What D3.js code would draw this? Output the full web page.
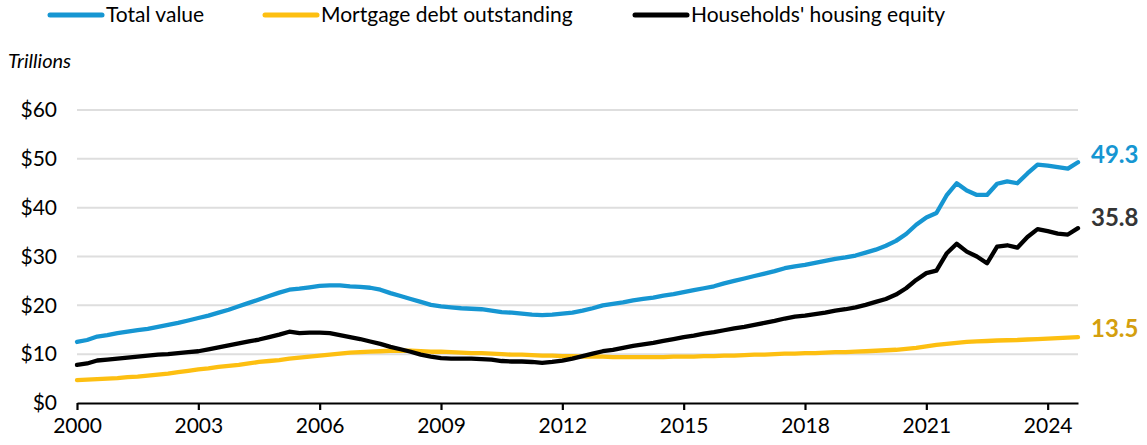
<!DOCTYPE html>
<html lang="en">
<head>
<meta charset="utf-8">
<title>Housing value, mortgage debt and equity</title>
<script src="https://d3js.org/d3.v7.min.js"></script>
<style>
  body { margin: 0; background: #fff; }
  svg { font-family: Lato, "Open Sans", sans-serif; }
</style>
</head>
<body>
<div id="chart"></div>
<script>
// quarterly values, 2000 Q1 to 2024 Q4 (trillions of dollars)
const startYear = 2000;
const totalValue = [
  12.5, 12.9, 13.6, 13.9, 14.3, 14.6, 14.9, 15.2, 15.6, 16.0, 16.4, 16.9,
  17.4, 17.9, 18.5, 19.1, 19.8, 20.5, 21.2, 21.9, 22.6, 23.2, 23.4, 23.7,
  24.0, 24.1, 24.1, 23.9, 23.8, 23.6, 23.2, 22.5, 21.9, 21.3, 20.7, 20.1,
  19.8, 19.6, 19.4, 19.3, 19.2, 18.9, 18.6, 18.5, 18.3, 18.1, 18.0, 18.1,
  18.3, 18.5, 18.9, 19.4, 20.0, 20.3, 20.6, 21.0, 21.3, 21.6, 22.0, 22.3,
  22.7, 23.1, 23.5, 23.9, 24.5, 25.0, 25.5, 26.0, 26.5, 27.0, 27.6, 28.0,
  28.3, 28.7, 29.1, 29.5, 29.8, 30.2, 30.8, 31.4, 32.2, 33.2, 34.6, 36.5,
  38.0, 38.9, 42.5, 45.0, 43.5, 42.6, 42.6, 44.9, 45.4, 45.0, 47.0, 48.8,
  48.6, 48.3, 48.0, 49.3
];
const mortgageDebt = [
  4.7, 4.8, 4.9, 5.0, 5.1, 5.3, 5.4, 5.6, 5.8, 6.0, 6.3, 6.6,
  6.9, 7.1, 7.4, 7.6, 7.8, 8.1, 8.4, 8.6, 8.8, 9.1, 9.3, 9.5,
  9.7, 9.9, 10.1, 10.3, 10.4, 10.5, 10.6, 10.7, 10.7, 10.7, 10.6, 10.5,
  10.5, 10.4, 10.3, 10.2, 10.2, 10.1, 10.0, 9.9, 9.9, 9.8, 9.7, 9.7,
  9.6, 9.6, 9.5, 9.5, 9.5, 9.4, 9.4, 9.4, 9.4, 9.4, 9.4, 9.5,
  9.5, 9.5, 9.6, 9.6, 9.7, 9.7, 9.8, 9.9, 9.9, 10.0, 10.1, 10.1,
  10.2, 10.2, 10.3, 10.4, 10.4, 10.5, 10.6, 10.7, 10.8, 10.9, 11.1, 11.3,
  11.6, 11.9, 12.1, 12.3, 12.5, 12.6, 12.7, 12.8, 12.85, 12.9, 13.0, 13.1,
  13.2, 13.3, 13.4, 13.5
];
const housingEquity = [
  7.8, 8.1, 8.7, 8.9, 9.1, 9.3, 9.5, 9.7, 9.9, 10.0, 10.2, 10.4,
  10.6, 11.0, 11.4, 11.8, 12.2, 12.6, 13.0, 13.5, 14.0, 14.6, 14.3, 14.4,
  14.4, 14.3, 13.9, 13.5, 13.1, 12.6, 12.1, 11.5, 11.0, 10.5, 9.9, 9.5,
  9.2, 9.1, 9.1, 9.1, 9.0, 8.9, 8.6, 8.5, 8.5, 8.4, 8.2, 8.4,
  8.7, 9.1, 9.6, 10.1, 10.6, 10.9, 11.3, 11.7, 12.0, 12.3, 12.7, 13.1,
  13.5, 13.8, 14.2, 14.5, 14.9, 15.3, 15.6, 16.0, 16.4, 16.8, 17.3, 17.7,
  17.9, 18.2, 18.5, 18.9, 19.2, 19.6, 20.1, 20.7, 21.3, 22.2, 23.5, 25.2,
  26.6, 27.1, 30.6, 32.6, 31.0, 30.0, 28.6, 32.0, 32.3, 31.8, 34.0, 35.6,
  35.2, 34.7, 34.5, 35.8
];
const yTicks = [0, 10, 20, 30, 40, 50, 60];
const xTicks = [2000, 2003, 2006, 2009, 2012, 2015, 2018, 2021, 2024];

const series = [
  { name: "Total value", values: totalValue, color: "#1696d2", labelColor: "#1696d2", nudge: -8 },
  { name: "Mortgage debt outstanding", values: mortgageDebt, color: "#fdbf11", labelColor: "#d49f0e", nudge: -8 },
  { name: "Households' housing equity", values: housingEquity, color: "#000000", labelColor: "#353535", nudge: -11 }
];

const width = 1147, height = 445;
const margin = { top: 110, right: 69, bottom: 42, left: 77 };

const svg = d3.select("#chart").append("svg")
  .attr("width", width)
  .attr("height", height);

const x = d3.scaleLinear()
  .domain([startYear, startYear + (totalValue.length - 1) / 4])
  .range([margin.left, width - margin.right]);

const y = d3.scaleLinear()
  .domain([0, 60])
  .range([height - margin.bottom, margin.top]);

// gridlines
svg.append("g")
  .selectAll("line")
  .data(yTicks.filter(d => d > 0))
  .join("line")
  .attr("x1", margin.left)
  .attr("x2", width - margin.right)
  .attr("y1", d => y(d))
  .attr("y2", d => y(d))
  .attr("stroke", "#dedede")
  .attr("stroke-width", 2);

// y axis labels
const yAxis = svg.append("g")
  .attr("transform", `translate(${margin.left},0)`)
  .call(d3.axisLeft(y).tickValues(yTicks).tickSize(0).tickPadding(20).tickFormat(d => "$" + d));
yAxis.select(".domain").remove();
yAxis.selectAll("text")
  .attr("font-size", 21)
  .attr("font-family", "Lato, sans-serif")
  .attr("fill", "#000");

// x axis
const xAxis = svg.append("g")
  .attr("transform", `translate(0,${y(0)})`)
  .call(d3.axisBottom(x).tickValues(xTicks).tickSize(7).tickSizeOuter(0).tickPadding(8).tickFormat(d3.format("d")));
xAxis.select(".domain").attr("stroke", "#000").attr("stroke-width", 2.2);
xAxis.selectAll(".tick line").attr("stroke", "#000").attr("stroke-width", 2.2);
xAxis.selectAll("text")
  .attr("font-size", 21)
  .attr("font-family", "Lato, sans-serif")
  .attr("fill", "#000");

// lines
const line = d3.line()
  .x((d, i) => x(startYear + i / 4))
  .y(d => y(d));

[series[1], series[0], series[2]].forEach(s => {
  svg.append("path")
    .datum(s.values)
    .attr("fill", "none")
    .attr("stroke", s.color)
    .attr("stroke-width", 4.3)
    .attr("stroke-linejoin", "round")
    .attr("stroke-linecap", "round")
    .attr("d", line);
});

// end labels
series.forEach(s => {
  const last = s.values[s.values.length - 1];
  svg.append("text")
    .attr("x", x(startYear + (s.values.length - 1) / 4) + 13)
    .attr("y", y(last) + s.nudge)
    .attr("dy", "0.35em")
    .attr("font-size", 24)
    .attr("font-weight", "bold")
    .attr("fill", s.labelColor)
    .text(last.toFixed(1));
});

// legend
const legendX = [50, 265, 635];
const legend = svg.append("g");
series.forEach((s, i) => {
  const g = legend.append("g").attr("transform", `translate(${legendX[i]},15)`);
  g.append("line")
    .attr("x1", 0).attr("x2", 52)
    .attr("stroke", s.color)
    .attr("stroke-width", 5)
    .attr("stroke-linecap", "round");
  g.append("text")
    .attr("x", 56)
    .attr("dy", "0.35em")
    .attr("font-size", 21)
    .attr("fill", "#000")
    .text(s.name);
});

// unit label
svg.append("text")
  .attr("x", 8)
  .attr("y", 61)
  .attr("dy", "0.35em")
  .attr("font-size", 20)
  .attr("font-style", "italic")
  .attr("fill", "#000")
  .text("Trillions");
</script>
</body>
</html>
